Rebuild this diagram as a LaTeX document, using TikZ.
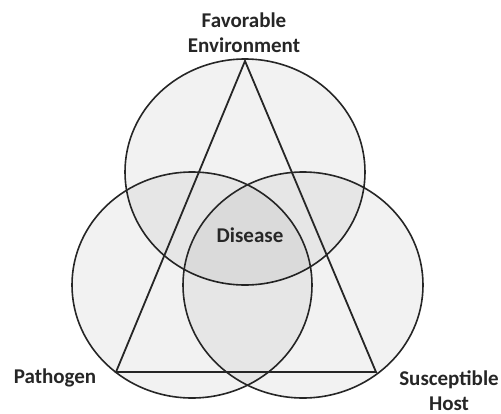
\documentclass[tikz,border=0pt]{standalone}
\usepackage{fontspec}
\setmainfont{Carlito}
\usetikzlibrary{shapes.geometric}
\begin{document}
\begin{tikzpicture}[x=1pt,y=-1pt,
  venn/.style={ellipse,draw=black!85,line width=1.6pt,fill=black,fill opacity=0.05,draw opacity=1,minimum width=240pt,minimum height=226pt,inner sep=0pt},
  lbl/.style={font=\bfseries\fontsize{21}{25}\selectfont,text=black!85,align=center,inner sep=0pt}]
\useasboundingbox (0,0) rectangle (501,413);
\node[venn] (env) at (245,172) {};
\node[venn] (path) at (192,285) {};
\node[venn] (host) at (303,285) {};
\coordinate (apex) at (245,61);
\coordinate (bl) at (116,372);
\coordinate (br) at (376,372);
\draw[black!85,line width=1.8pt,line join=miter] (apex) -- (bl) -- (br) -- cycle;
\node[lbl] (tenv) at (244,33) {Favorable\\Environment};
\node[lbl] (tdis) at (250,235) {Disease};
\node[lbl] (tpath) at (55,378) {Pathogen};
\node[lbl] (thost) at (449,391) {Susceptible\\Host};
\end{tikzpicture}
\end{document}
